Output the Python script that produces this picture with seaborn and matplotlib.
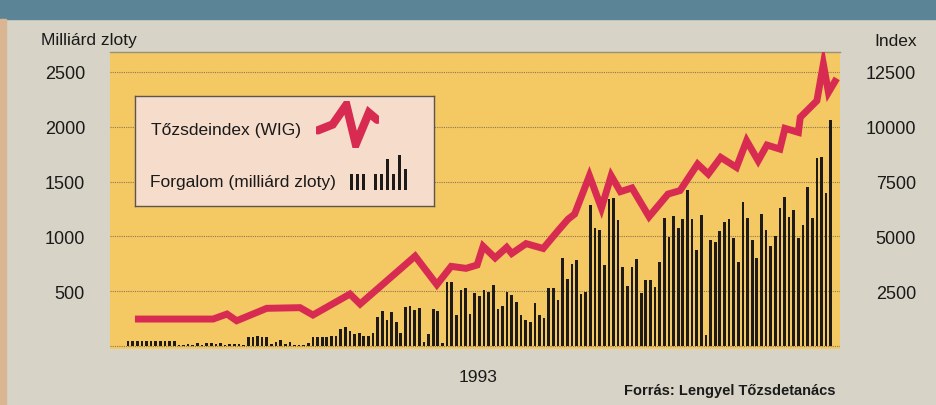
import numpy as np
import pandas as pd
import seaborn as sns
import matplotlib.pyplot as plt
from matplotlib.patches import Rectangle

# turnover per trading session in 1993, billion zloty
volume = [45, 45, 45, 42, 45, 45, 42, 45, 45, 45, 45,
          12, 12, 15, 12, 25, 12, 30, 28, 20,
          30, 12, 22, 20, 15, 12, 85, 85, 88, 80,
          85, 15, 35, 55, 15, 35, 12, 12, 12, 25,
          82, 85, 85, 85,
          88, 88, 158, 170, 137, 112, 119, 88, 88, 119,
          265, 319, 234, 310, 219, 119, 359, 368, 328, 347,
          40, 106, 340, 319, 27, 581, 581, 280, 508, 532,
          295, 486, 456, 514, 490, 556, 340, 368, 492, 462,
          401, 280, 240, 219, 395, 286, 258, 529, 529, 423,
          803, 611,
          745, 784, 471, 496, 1283, 1073, 1058, 736, 1344, 1350,
          1146, 724, 547, 724, 790, 486, 599, 602, 541, 766,
          1170, 991, 1183, 1073, 1155, 1423, 1155, 872, 1192, 97,
          967, 948, 1049, 1134, 1155, 988, 766, 1316, 1170, 967,
          806, 1207, 1058, 912, 1003, 1259, 1359, 1180, 1240, 988,
          1107, 1450, 1164, 1718, 1721, 1392, 2058]

# WIG index at the turning points of the printed line (x in session numbers)
wig_session = [1.5, 18.4, 21.4, 23.5, 30.0, 37.2, 40.0, 48.0, 50.2, 62.1,
               66.8, 69.9, 73.1, 75.5, 76.8, 79.4, 81.9, 83.0, 86.1, 89.8,
               93.0, 95.2, 96.6, 99.8, 102.4, 104.5, 106.5, 109.0, 112.7, 116.8,
               119.4, 123.2, 125.5, 128.2, 131.6, 133.8, 136.3, 138.2, 141.0, 142.1,
               145.0, 145.4, 149.0, 150.4, 151.5, 153.3]
wig_value = [1231, 1231, 1459, 1154, 1720, 1750, 1414, 2371, 1915, 4100,
             2800, 3634, 3543, 3694, 4550, 4020, 4500, 4220, 4670, 4450,
             5258, 5790, 6019, 7766, 6290, 7766, 7040, 7210, 5900, 6931,
             7090, 8299, 7843, 8604, 8149, 9362, 8450, 9166, 8983, 9927,
             9745, 10429, 11186, 12859, 11569, 12207]

left_ticks = [500, 1000, 1500, 2000, 2500]
right_ticks = [2500, 5000, 7500, 10000, 12500]

# little glyphs inside the legend box
icon_line_x = [0, 0.25, 0.48, 0.64, 0.86, 1.0]
icon_line_y = [0.35, 0.5, 1.0, 0.0, 0.8, 0.62]
icon_bars = [0.45, 0.45, 0.45, 0, 0.45, 0.45, 0.9, 0.45, 1.0, 0.6]

BG = '#d7d3c6'
BAND = '#5b8596'
YELLOW = '#f4c862'
RED = '#d82b52'
INK = '#1d1a17'
W, H = 936, 406


def fx(px):
    return px / W


def fy(py):
    return 1 - py / H


sns.set_theme(style='white')
plt.rcParams['font.family'] = ['Liberation Sans', 'DejaVu Sans']

fig = plt.figure(figsize=(W / 100, H / 100), dpi=100)
fig.patch.set_facecolor(BG)
fig.add_artist(Rectangle((0, fy(20)), 1, 20 / H, transform=fig.transFigure,
                         color=BAND, zorder=0))
fig.add_artist(Rectangle((0, 0), fx(6), fy(20), transform=fig.transFigure,
                         color='#d9b592', zorder=0))

# main axes (turnover bars)
ax = fig.add_axes([fx(110), fy(350), 730 / W, 297 / H])
ax.set_facecolor(YELLOW)
df = pd.DataFrame({'session': np.arange(len(volume)), 'volume': volume})
sns.barplot(data=df, x='session', y='volume', native_scale=True, width=0.58,
            color=INK, saturation=1, errorbar=None, linewidth=0, ax=ax, zorder=2)
for y in [0] + left_ticks:
    ax.axhline(y, color='#8a7a55', lw=0.8, ls=(0, (1, 1)), zorder=0.5)
ax.set_xlim(-3.9, 154.0)
ax.set_ylim(-27, 2682)
ax.set_xticks([])
ax.set_yticks(left_ticks)
ax.set_xlabel('')
ax.set_ylabel('')
ax.tick_params(axis='y', length=0, pad=18, labelsize=13, labelcolor='#1a1a1a')
for s in ax.spines.values():
    s.set_visible(False)
ax.spines['top'].set_visible(True)
ax.spines['top'].set_color('#9a9080')
ax.spines['top'].set_linewidth(1)

# index line on a twin axis, 5x the left scale
ax2 = ax.twinx()
sns.lineplot(x=wig_session, y=wig_value, ax=ax2, color=RED, lw=5,
             estimator=None, sort=False)
for ln in ax2.get_lines():
    ln.set_solid_joinstyle('miter')
    ln.set_solid_capstyle('butt')
ax2.set_ylim(-27 * 5, 2682 * 5)
ax2.set_xlim(-3.9, 154.0)
ax2.set_yticks(right_ticks)
ax2.set_ylabel('')
ax2.tick_params(axis='y', length=0, pad=54.7, labelsize=13, labelcolor='#1a1a1a')
plt.setp(ax2.get_yticklabels(), ha='right')
for s in ax2.spines.values():
    s.set_visible(False)

# legend box
lax = fig.add_axes([fx(135), fy(207), 299 / W, 110 / H])
lax.set_facecolor('#f6dccb')
lax.set_xticks([])
lax.set_yticks([])
for s in lax.spines.values():
    s.set_color('#5e544c')
    s.set_linewidth(1)
fig.text(fx(151), fy(131), 'Tőzsdeindex (WIG)', fontsize=12.5,
         ha='left', va='center', color='#1a1a1a')
fig.text(fx(150), fy(183), 'Forgalom (milliárd zloty)', fontsize=12.5,
         ha='left', va='center', color='#1a1a1a')

ia = fig.add_axes([fx(316), fy(149), 63 / W, 47 / H])
ia.plot(icon_line_x, icon_line_y, color=RED, lw=6, solid_joinstyle='miter')
ia.set_xlim(-0.03, 1.03)
ia.set_ylim(-0.1, 1.1)
ia.axis('off')

ib = fig.add_axes([fx(348), fy(191), 60 / W, 35 / H])
ib.bar(np.arange(len(icon_bars)), icon_bars, width=0.5, color=INK, linewidth=0)
ib.set_xlim(-0.5, len(icon_bars) - 0.5)
ib.set_ylim(0, 1)
ib.axis('off')

# header and footer texts
fig.text(fx(41), fy(41), 'Milliárd zloty', fontsize=12.5, ha='left',
         va='center', color='#1a1a1a')
fig.text(fx(917), fy(41), 'Index', fontsize=12.5, ha='right',
         va='center', color='#1a1a1a')
fig.text(fx(478), fy(378), '1993', fontsize=12.5, ha='center',
         va='center', color='#1a1a1a')
fig.text(fx(836), fy(391), 'Forrás: Lengyel Tőzsdetanács', fontsize=10.5,
         fontweight='bold', ha='right', va='center', color='#1a1a1a')

fig.savefig('out.png', dpi=100, facecolor=fig.get_facecolor())
